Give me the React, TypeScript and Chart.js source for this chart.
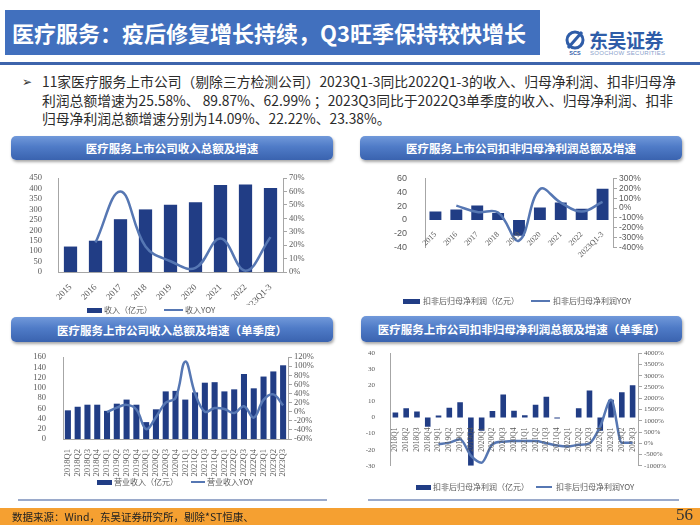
import React, { useEffect, useRef } from 'react';
import { Chart, registerables } from 'chart.js';
Chart.register(...registerables);

// ---------- data ----------
const years = ['2015', '2016', '2017', '2018', '2019', '2020', '2021', '2022', '2023Q1-3'];
const revenueAnnual = [122, 150, 253, 300, 322, 334, 417, 419, 403];
const revenueAnnualYoy = [null, 22, 60, 19, 8, 3, 25, 1, 26];

const profitAnnual = [12, 15, 21, 10, -23, 18, 25, 16, 45];
const profitAnnualYoy = [null, 25, -40, -45, -330, 190, 55, -36, 63];

const quarters = [
  '2018Q1', '2018Q2', '2018Q3', '2018Q4',
  '2019Q1', '2019Q2', '2019Q3', '2019Q4',
  '2020Q1', '2020Q2', '2020Q3', '2020Q4',
  '2021Q1', '2021Q2', '2021Q3', '2021Q4',
  '2022Q1', '2022Q2', '2022Q3', '2022Q4',
  '2023Q1', '2023Q2', '2023Q3',
];
const revenueQ = [56, 63, 67, 67, 55, 69, 77, 67, 33, 58, 93, 94, 77, 91, 110, 111, 93, 97, 127, 99, 122, 132, 144];
const revenueQYoy = [null, null, null, null, -1, 9, 15, 5, -38, -12, 20, 30, 110, 40, 0, 8, 6, -3, 12, -13, 26, 38, 14];

const profitQ = [3.2, 5.7, 3.8, -5.7, 1.3, 6.1, 9.5, -30, -8.2, 4, 14.3, 4.2, 1.5, 8, 13, -0.6, 0, 5.7, 16.8, -8.2, 11, 15.8, 20];
const profitQYoy = [null, null, null, null, -40, 30, 180, -550, -860, -40, 70, 100, 100, 100, 0, -100, -140, -70, 0, 750, 1930, 20, 23];

const bulletLines = [
  '11家医疗服务上市公司（剔除三方检测公司）2023Q1-3同比2022Q1-3的收入、归母净利润、扣非归母净',
  '利润总额增速为25.58%、 89.87%、62.99% ；2023Q3同比于2022Q3单季度的收入、归母净利润、扣非',
  '归母净利润总额增速分别为14.09%、22.22%、23.38%。',
];

// ---------- styles ----------
const BAR = '#213D85';
const LINE = '#5677B3';
const TICK = '#595959';
const AXIS = '#A6A6A6';
const SERIF = '"Liberation Serif", "Times New Roman", serif';
const SANS = '"Liberation Sans", Arial, sans-serif';
const CJK = '"Noto Sans CJK SC", "Noto Sans", sans-serif';

function makeConfig(o: any) {
  return {
    type: 'bar',
    data: {
      labels: o.labels,
      datasets: [
        {
          type: 'line',
          label: o.lineLabel,
          data: o.line,
          yAxisID: 'y1',
          borderColor: LINE,
          backgroundColor: LINE,
          borderWidth: 2.5,
          tension: 0.4,
          cubicInterpolationMode: o.monotone ? 'monotone' : 'default',
          pointRadius: 0,
          fill: false,
          order: 0,
        },
        {
          type: 'bar',
          label: o.barLabel,
          data: o.bars,
          yAxisID: 'y',
          backgroundColor: BAR,
          categoryPercentage: 1,
          barPercentage: o.barFrac,
          order: 1,
        },
      ],
    },
    options: {
      responsive: false,
      animation: false,
      devicePixelRatio: 1,
      layout: { padding: { top: o.padTop, bottom: o.padBottom, left: 0, right: 0 } },
      plugins: { legend: { display: false }, tooltip: { enabled: false } },
      scales: {
        x: {
          position: o.xAtZero ? { y: 0 } : 'bottom',
          grid: { display: false },
          border: { display: o.xBorder, color: AXIS },
          ticks: {
            autoSkip: false,
            minRotation: o.rotation,
            maxRotation: o.rotation,
            font: { family: SERIF, size: o.xFont },
            color: TICK,
            padding: 2,
            z: 1,
          },
          afterFit: (s: any) => { s.height = o.xHeight; },
        },
        y: {
          position: 'left',
          min: o.yMin,
          max: o.yMax,
          ticks: {
            stepSize: o.yStep, autoSkip: false,
            font: { family: o.yFamily, size: o.yFont }, color: TICK, padding: o.yPad,
          },
          grid: { display: false },
          border: { display: true, color: AXIS },
          afterFit: (s: any) => { s.width = o.yWidth; },
        },
        y1: {
          position: 'right',
          min: o.y1Min,
          max: o.y1Max,
          ticks: {
            stepSize: o.y1Step,
            autoSkip: false,
            font: { family: o.y1Family, size: o.y1Font },
            color: TICK,
            padding: 2,
            callback: (v: any) => v + '%',
          },
          grid: { display: true, drawOnChartArea: false, tickLength: 4, color: AXIS },
          border: { display: true, color: AXIS },
          afterFit: (s: any) => { s.width = o.y1Width; },
        },
      },
    },
  };
}

function ChartCanvas({ left, top, width, height, cfg }: any) {
  const ref = useRef<HTMLCanvasElement>(null);
  useEffect(() => {
    const chart = new Chart(ref.current as HTMLCanvasElement, makeConfig(cfg) as any);
    return () => chart.destroy();
  }, []);
  return (
    <canvas
      ref={ref}
      width={width}
      height={height}
      style={{ position: 'absolute', left, top, width, height }}
    />
  );
}

function Header({ left, top, width, height, text }: any) {
  return (
    <div
      style={{
        position: 'absolute', left, top, width, height,
        borderRadius: 5,
        background: 'linear-gradient(180deg, #7199DA 0%, #4F7BC7 45%, #3A63AF 100%)',
        boxShadow: '1px 2px 3px rgba(0,0,0,0.35)',
        color: '#fff', fontWeight: 700, fontSize: 11.5, fontFamily: CJK,
        display: 'flex', alignItems: 'center', justifyContent: 'center',
        whiteSpace: 'nowrap',
      }}
    >
      {text}
    </div>
  );
}

function Legend({ y, rectX, rectW, textX1, lineX, lineW, textX2, barLabel, lineLabel }: any) {
  const txt: any = {
    position: 'absolute', fontFamily: CJK, fontSize: 8, color: TICK,
    lineHeight: '10px', top: y - 5, whiteSpace: 'nowrap',
  };
  return (
    <>
      <div style={{ position: 'absolute', left: rectX, top: y - 2.5, width: rectW, height: 5, background: BAR }} />
      <div style={{ ...txt, left: textX1 }}>{barLabel}</div>
      <div style={{ position: 'absolute', left: lineX, top: y - 1, width: lineW, height: 2, background: LINE }} />
      <div style={{ ...txt, left: textX2 }}>{lineLabel}</div>
    </>
  );
}

export default function App() {
  return (
    <div
      style={{
        position: 'fixed', left: 0, top: 0, width: 700, height: 525,
        background: '#fff', overflow: 'hidden', fontFamily: CJK,
      }}
    >
      {/* title bar */}
      <div style={{ position: 'absolute', left: 5, top: 10, width: 535, height: 45, background: '#4170BE' }} />
      <div
        style={{
          position: 'absolute', left: 12, top: 10, height: 45, lineHeight: '45px',
          color: '#fff', fontWeight: 700, fontSize: 22, fontFamily: CJK, whiteSpace: 'nowrap',
        }}
      >
        医疗服务：疫后修复增长持续，Q3旺季保持较快增长
      </div>

      {/* logo */}
      <svg style={{ position: 'absolute', left: 564, top: 30 }} width="22" height="26" viewBox="0 0 22 26">
        <ellipse cx="11" cy="10" rx="8" ry="8" fill="none" stroke="#2F5DA8" strokeWidth="3" />
        <line x1="4" y1="18" x2="18" y2="2" stroke="#2F5DA8" strokeWidth="3" />
        <text x="11" y="25" fontSize="5.5" textAnchor="middle" fill="#2F5DA8" fontFamily={SANS} fontWeight="700">SCS</text>
      </svg>
      <div style={{ position: 'absolute', left: 589, top: 29, fontSize: 19, fontWeight: 700, color: '#2F5DA8', lineHeight: '22px', letterSpacing: -0.5 }}>
        东吴证券
      </div>
      <div style={{ position: 'absolute', left: 590, top: 50, fontSize: 6, color: '#8AA2CC', fontFamily: SANS, letterSpacing: 0.3, whiteSpace: 'nowrap' }}>
        SOOCHOW SECURITIES
      </div>

      {/* separator */}
      <div style={{ position: 'absolute', left: 0, top: 62, width: 700, height: 2.5, background: '#3D64AC' }} />

      {/* bullet text */}
      <div style={{ position: 'absolute', left: 22, top: 72, fontSize: 12, color: '#333', lineHeight: '18px' }}>➢</div>
      {bulletLines.map((t, i) => (
        <div
          key={i}
          style={{
            position: 'absolute', left: 42, top: 72 + i * 18.5, fontSize: 13.8, color: '#2B2B2B',
            lineHeight: '18px', whiteSpace: 'nowrap', fontFamily: CJK,
          }}
        >
          {t}
        </div>
      ))}

      {/* headers */}
      <Header left={11} top={136} width={322} height={24} text="医疗服务上市公司收入总额及增速" />
      <Header left={360} top={136} width={322} height={24} text="医疗服务上市公司扣非归母净利润总额及增速" />
      <Header left={11} top={317} width={322} height={25} text="医疗服务上市公司收入总额及增速（单季度）" />
      <Header left={361} top={316} width={321} height={26} text="医疗服务上市公司扣非归母净利润总额及增速（单季度）" />

      {/* chart 1 */}
      <ChartCanvas
        left={10} top={165} width={330} height={140}
        cfg={{
          labels: years, bars: revenueAnnual, line: revenueAnnualYoy,
          barLabel: '收入（亿元）', lineLabel: '收入YOY',
          barFrac: 0.53, padTop: 10, padBottom: 0,
          xAtZero: false, xBorder: true, rotation: 45, xFont: 9, xHeight: 33,
          yMin: 0, yMax: 450, yStep: 50, yFamily: SERIF, yFont: 8.5, yPad: 8, yWidth: 48,
          y1Min: 0, y1Max: 70, y1Step: 10, y1Family: SERIF, y1Font: 8.5, y1Width: 57,
        }}
      />
      <Legend y={310} rectX={87} rectW={15} textX1={104} lineX={164} lineW={19} textX2={185} barLabel="收入（亿元）" lineLabel="收入YOY" />

      {/* chart 2 */}
      <ChartCanvas
        left={380} top={163} width={275} height={100}
        cfg={{
          labels: years, bars: profitAnnual, line: profitAnnualYoy,
          barLabel: '扣非后归母净利润（亿元）', lineLabel: '扣非后归母净利润YOY',
          barFrac: 0.57, padTop: 10, padBottom: 5,
          xAtZero: true, xBorder: false, rotation: 45, xFont: 8, xHeight: 0,
          yMin: -40, yMax: 60, yStep: 20, yFamily: SANS, yFont: 9, yPad: 10, yWidth: 45,
          y1Min: -400, y1Max: 300, y1Step: 100, y1Family: SANS, y1Font: 8.5, y1Width: 42,
        }}
      />
      <Legend y={301} rectX={403} rectW={17} textX1={423} lineX={531} lineW={19} textX2={553} barLabel="扣非后归母净利润（亿元）" lineLabel="扣非后归母净利润YOY" />

      {/* chart 3 */}
      <ChartCanvas
        left={10} top={343} width={325} height={138}
        cfg={{
          labels: quarters, bars: revenueQ, line: revenueQYoy,
          barLabel: '营业收入（亿元）', lineLabel: '营业收入YOY',
          barFrac: 0.62, padTop: 8, padBottom: 0,
          xAtZero: false, xBorder: true, rotation: 90, xFont: 8.5, xHeight: 42,
          yMin: 0, yMax: 160, yStep: 20, yFamily: SERIF, yFont: 8.5, yPad: 9, yWidth: 53,
          y1Min: -60, y1Max: 120, y1Step: 20, y1Family: SERIF, y1Font: 8.5, y1Width: 47,
        }}
      />
      <Legend y={482} rectX={97} rectW={15} textX1={114} lineX={191} lineW={14} textX2={207} barLabel="营业收入（亿元）" lineLabel="营业收入YOY" />

      {/* chart 4 */}
      <ChartCanvas
        left={350} top={342} width={335} height={135}
        cfg={{
          labels: quarters, bars: profitQ, line: profitQYoy,
          barLabel: '扣非后归母净利润（亿元）', lineLabel: '扣非后归母净利润YOY',
          barFrac: 0.52, padTop: 8, padBottom: 6, monotone: true,
          xAtZero: true, xBorder: false, rotation: 90, xFont: 7.5, xHeight: 0,
          yMin: -30, yMax: 40, yStep: 10, yFamily: SERIF, yFont: 7, yPad: 7, yWidth: 40,
          y1Min: -1000, y1Max: 4000, y1Step: 500, y1Family: SERIF, y1Font: 7, y1Width: 47,
        }}
      />
      <Legend y={487} rectX={416} rectW={15} textX1={433} lineX={536} lineW={16} textX2={556} barLabel="扣非后归母净利润（亿元）" lineLabel="扣非后归母净利润YOY" />

      {/* bottom separators */}
      <div style={{ position: 'absolute', left: 18, top: 499, width: 309, height: 1.5, background: '#9AAACB' }} />
      <div style={{ position: 'absolute', left: 368, top: 499, width: 311, height: 1.5, background: '#9AAACB' }} />

      {/* footer */}
      <div style={{ position: 'absolute', left: 0, top: 508, width: 700, height: 17, background: '#F5A031' }} />
      <div style={{ position: 'absolute', left: 12, top: 508, height: 17, lineHeight: '17px', fontSize: 10.5, color: '#222', whiteSpace: 'nowrap' }}>
        数据来源：Wind，东吴证券研究所，剔除*ST恒康、
      </div>
      <div style={{ position: 'absolute', left: 676, top: 505, height: 20, lineHeight: '20px', fontSize: 17, color: '#333', fontFamily: SERIF }}>
        56
      </div>
    </div>
  );
}
